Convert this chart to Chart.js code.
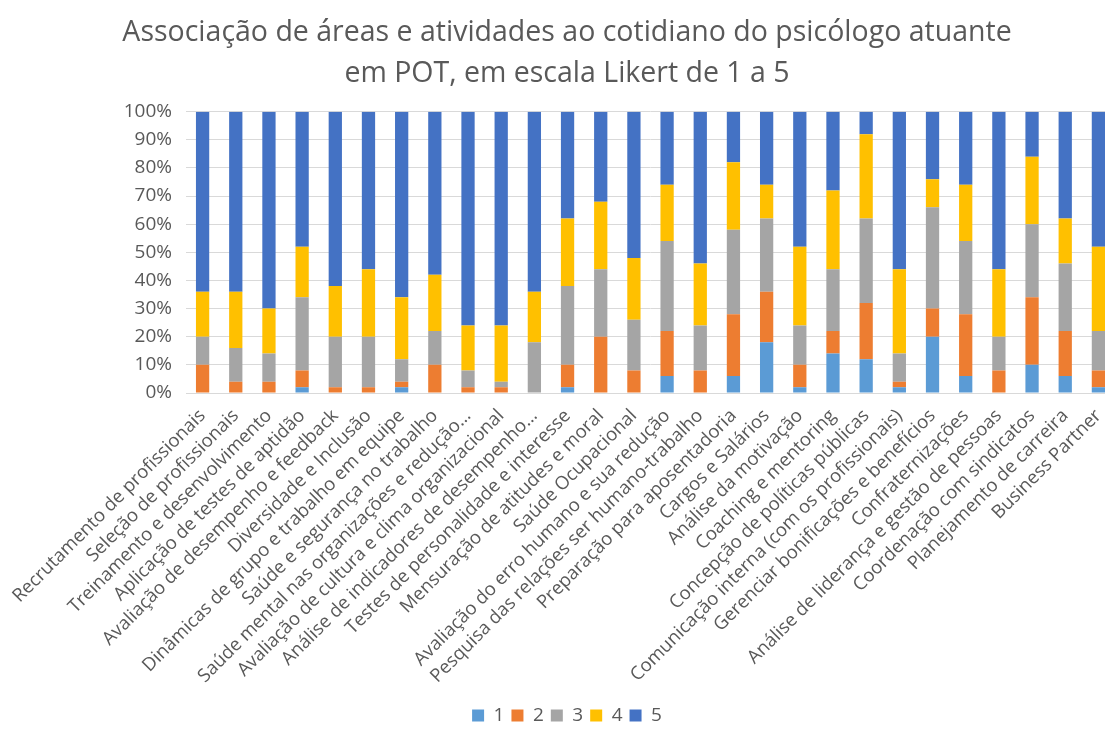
<!DOCTYPE html>
<html>
<head>
<meta charset="utf-8">
<script src="https://cdn.jsdelivr.net/npm/chart.js@4"></script>
<style>
  body { margin: 0; background: #fff; }
  #wrap { width: 1105px; height: 729px; overflow: hidden; }
</style>
</head>
<body>
<div id="wrap"><canvas id="grafica" width="1134" height="729"></canvas></div>
<script>
const areas = [
  "Recrutamento de profissionais",
  "Seleção de profissionais",
  "Treinamento e desenvolvimento",
  "Aplicação de testes de aptidão",
  "Avaliação de desempenho e feedback",
  "Diversidade e Inclusão",
  "Dinâmicas de grupo e trabalho em equipe",
  "Saúde e segurança no trabalho",
  "Saúde mental nas organizações e redução…",
  "Avaliação de cultura e clima organizacional",
  "Análise de indicadores de desempenho…",
  "Testes de personalidade e interesse",
  "Mensuração de atitudes e moral",
  "Saúde Ocupacional",
  "Avaliação do erro humano e sua redução",
  "Pesquisa das relações ser humano-trabalho",
  "Preparação para aposentadoria",
  "Cargos e Salários",
  "Análise da motivação",
  "Coaching e mentoring",
  "Concepção de políticas públicas",
  "Comunicação interna (com os profissionais)",
  "Gerenciar bonificações e benefícios",
  "Confraternizações",
  "Análise de liderança e gestão de pessoas",
  "Coordenação com sindicatos",
  "Planejamento de carreira",
  "Business Partner"
];

// porcentagem de respostas por nivel da escala Likert
const nivel1 = [0, 0, 0, 2, 0, 0, 2, 0, 0, 0, 0, 2, 0, 0, 6, 0, 6, 18, 2, 14, 12, 2, 20, 6, 0, 10, 6, 2];
const nivel2 = [10, 4, 4, 6, 2, 2, 2, 10, 2, 2, 0, 8, 20, 8, 16, 8, 22, 18, 8, 8, 20, 2, 10, 22, 8, 24, 16, 6];
const nivel3 = [10, 12, 10, 26, 18, 18, 8, 12, 6, 2, 18, 28, 24, 18, 32, 16, 30, 26, 14, 22, 30, 10, 36, 26, 12, 26, 24, 14];
const nivel4 = [16, 20, 16, 18, 18, 24, 22, 20, 16, 20, 18, 24, 24, 22, 20, 22, 24, 12, 28, 28, 30, 30, 10, 20, 24, 24, 16, 30];
const nivel5 = [64, 64, 70, 48, 62, 56, 66, 58, 76, 76, 64, 38, 32, 52, 26, 54, 18, 26, 48, 28, 8, 56, 24, 26, 56, 16, 38, 48];

const escala = ["1", "2", "3", "4", "5"];
const cores = ["#5B9BD5", "#ED7D31", "#A5A5A5", "#FFC000", "#4472C4"];
const series = [nivel1, nivel2, nivel3, nivel4, nivel5];

const fonte = "'Open Sans', 'Noto Sans', sans-serif";
const cinza = "#595959";

const datasets = series.map((valores, i) => ({
  label: escala[i],
  data: valores,
  backgroundColor: cores[i],
  categoryPercentage: 1,
  barPercentage: 0.4
}));

new Chart(document.getElementById("grafica"), {
  type: "bar",
  data: { labels: areas, datasets: datasets },
  options: {
    responsive: false,
    animation: false,
    layout: { padding: { left: 19, right: 19, top: 0, bottom: -6 } },
    plugins: {
      title: {
        display: true,
        text: ["Associação de áreas e atividades ao cotidiano do psicólogo atuante", "em POT, em escala Likert de 1 a 5"],
        color: cinza,
        font: { family: fonte, size: 28.5, weight: "normal", lineHeight: 1.45 },
        padding: { top: 12, bottom: 17 }
      },
      legend: {
        position: "bottom",
        labels: {
          color: cinza,
          font: { family: fonte, size: 19 },
          boxWidth: 12,
          boxHeight: 12,
          padding: 7
        }
      },
      tooltip: { enabled: false }
    },
    scales: {
      x: {
        stacked: true,
        grid: { display: false },
        border: { color: "#D9D9D9", width: 1 },
        ticks: {
          color: cinza,
          font: { family: fonte, size: 18.5 },
          autoSkip: false,
          minRotation: 45,
          maxRotation: 45,
          padding: 4
        },
        afterFit: (scale) => { scale.height = 306; }
      },
      y: {
        stacked: true,
        min: 0,
        max: 100,
        grid: { color: "#D9D9D9", drawTicks: false },
        border: { display: false },
        ticks: {
          stepSize: 10,
          color: cinza,
          font: { family: fonte, size: 19 },
          padding: 14,
          callback: (v) => v + "%"
        },
        afterFit: (scale) => { scale.width = 167; }
      }
    }
  }
});
</script>
</body>
</html>
